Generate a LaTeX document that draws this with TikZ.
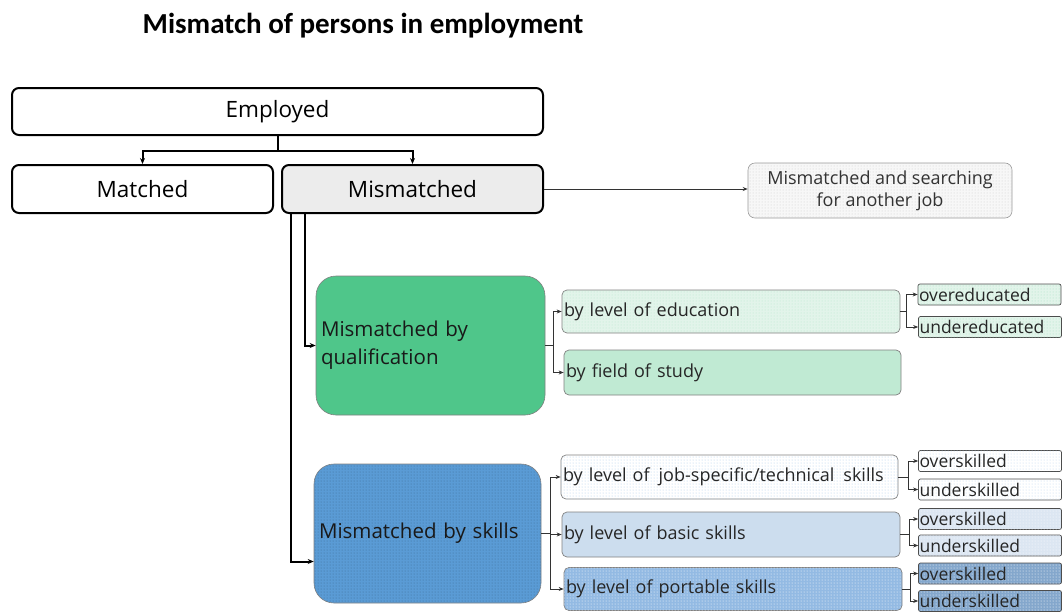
\documentclass[tikz,border=0pt]{standalone}
\usepackage{fontspec}
\setmainfont{Open Sans}
\newfontfamily\headfont{Carlito}
\usetikzlibrary{patterns,arrows.meta}

\definecolor{qualgreen}{HTML}{4FC68A}
\definecolor{edugreen}{HTML}{E2F4EA}
\definecolor{fieldgreen}{HTML}{C0EAD3}
\definecolor{skillblue}{HTML}{5A9BD5}
\definecolor{basicblue}{HTML}{CCDDEE}
\definecolor{paleblue}{HTML}{DCE6F2}
\definecolor{portblue}{HTML}{93BAE3}

\tikzset{
  mainbox/.style={draw, rounded corners=7, line width=2pt, font=\fontsize{22.5}{26}\selectfont},
  bigbox/.style={draw=gray, rounded corners=20, line width=0.6pt, align=left, inner xsep=5pt,
    font=\fontsize{20.5}{28}\selectfont, text=black!90},
  subbox/.style={draw=gray, rounded corners=5, line width=0.7pt, align=left, inner xsep=2pt,
    font=\fontsize{18}{20}\selectfont, text=black!85},
  tinybox/.style={draw=black!70, rounded corners=2, line width=0.7pt, align=left, inner xsep=1pt,
    text width=141pt, minimum height=21pt, inner ysep=0pt, font=\fontsize{17.5}{19}\selectfont, text=black!85},
  dotted fill/.style={postaction={pattern=dots, pattern color=#1}},
  link/.style={-{Stealth[length=5pt,width=4pt]}, line width=0.8pt, black!80},
  thicklink/.style={-{Stealth[length=6pt,width=5pt]}, line width=2pt},
}

\begin{document}
\begin{tikzpicture}[x=1pt, y=-1pt]
\useasboundingbox (0,0) rectangle (1064,613);

% Title.
\node[font=\headfont\bfseries\fontsize{29}{32}\selectfont] (title) at (363,26) {Mismatch of persons in employment};

% Top level.
\node[mainbox, minimum width=531, minimum height=47] (employed) at (277.5,111.5) {Employed};
\node[mainbox, minimum width=261, minimum height=48] (matched) at (142.5,189) {Matched};
\node[mainbox, fill=gray!15, minimum width=261, minimum height=48] (mismatched) at (412.5,189) {Mismatched};
\node[draw=gray!80, fill=gray!6, dotted fill=gray!40, rounded corners=7, line width=0.6pt, align=center,
  minimum width=264, minimum height=55, inner ysep=2pt, text=black!80, font=\fontsize{18}{22}\selectfont]
  (searching) at (880,190.5) {Mismatched and searching\\for another job};

% Qualification branch.
\node[bigbox, fill=qualgreen, text width=219pt, minimum height=139] (qual) at (430.5,345.5) {Mismatched by\\qualification};
\node[subbox, fill=edugreen, dotted fill=qualgreen!40, text width=334pt, minimum height=43] (edu) at (731,311.5) {by level of education};
\node[subbox, fill=fieldgreen, text width=333pt, minimum height=45] (field) at (732.5,372.5) {by field of study};
\node[tinybox, fill=edugreen, dotted fill=qualgreen!50] (overedu) at (989.5,294.5) {overeducated};
\node[tinybox, fill=edugreen, dotted fill=qualgreen!50] (underedu) at (990,327) {undereducated};

% Skills branch.
\node[bigbox, fill=skillblue, dotted fill=skillblue!70!black, text width=217pt, minimum height=139] (skills) at (427.5,533.5) {Mismatched by skills};
\node[subbox, fill=white, dotted fill=skillblue!50, text width=333pt, minimum height=44] (tech) at (729.5,477) {by level of\, job-specific/technical\, skills};
\node[subbox, fill=basicblue, text width=334pt, minimum height=45] (basic) at (731,534.5) {by level of basic skills};
\node[subbox, fill=portblue, dotted fill=white, text width=334pt, minimum height=43] (port) at (733,589) {by level of portable skills};

\node[tinybox, fill=white, dotted fill=skillblue!40] (overtech) at (990,461) {overskilled};
\node[tinybox, fill=white, dotted fill=skillblue!40] (undertech) at (990,489.5) {underskilled};
\node[tinybox, fill=paleblue, dotted fill=white] (overbasic) at (990,519) {overskilled};
\node[tinybox, fill=paleblue, dotted fill=white] (underbasic) at (990,545.5) {underskilled};
\node[tinybox, fill=portblue!90!black, dotted fill=white] (overport) at (990,573.5) {overskilled};
\node[tinybox, fill=portblue!90!black, dotted fill=white] (underport) at (990,601) {underskilled};

% Draw links.
\draw[thicklink] (employed.south) -- ++(0,15) -| (matched.north);
\draw[thicklink] (employed.south) -- ++(0,15) -| (mismatched.north);
\draw[link] (mismatched.east) -- (mismatched.east -| searching.west);
\draw[thicklink] ([xshift=24]mismatched.south west) |- (qual.west);
\draw[thicklink] ([xshift=10]mismatched.south west) |- ([yshift=-28]skills.west);

\draw[link] (qual.east) -- ++(8,0) |- (edu.west);
\draw[link] (qual.east) -- ++(8,0) |- (field.west);
\draw[link] (edu.east) -- ++(6,0) |- (overedu.west);
\draw[link] (edu.east) -- ++(6,0) |- (underedu.west);

\draw[link] (skills.east) -- ++(9,0) |- (tech.west);
\draw[link] (skills.east) -- ++(9,0) |- (basic.west);
\draw[link] (skills.east) -- ++(9,0) |- (port.west);
\draw[link] (tech.east) -- ++(10,0) |- (overtech.west);
\draw[link] (tech.east) -- ++(10,0) |- (undertech.west);
\draw[link] (basic.east) -- ++(9,0) |- (overbasic.west);
\draw[link] (basic.east) -- ++(9,0) |- (underbasic.west);
\draw[link] (port.east) -- ++(8,0) |- (overport.west);
\draw[link] (port.east) -- ++(8,0) |- (underport.west);

\end{tikzpicture}
\end{document}
